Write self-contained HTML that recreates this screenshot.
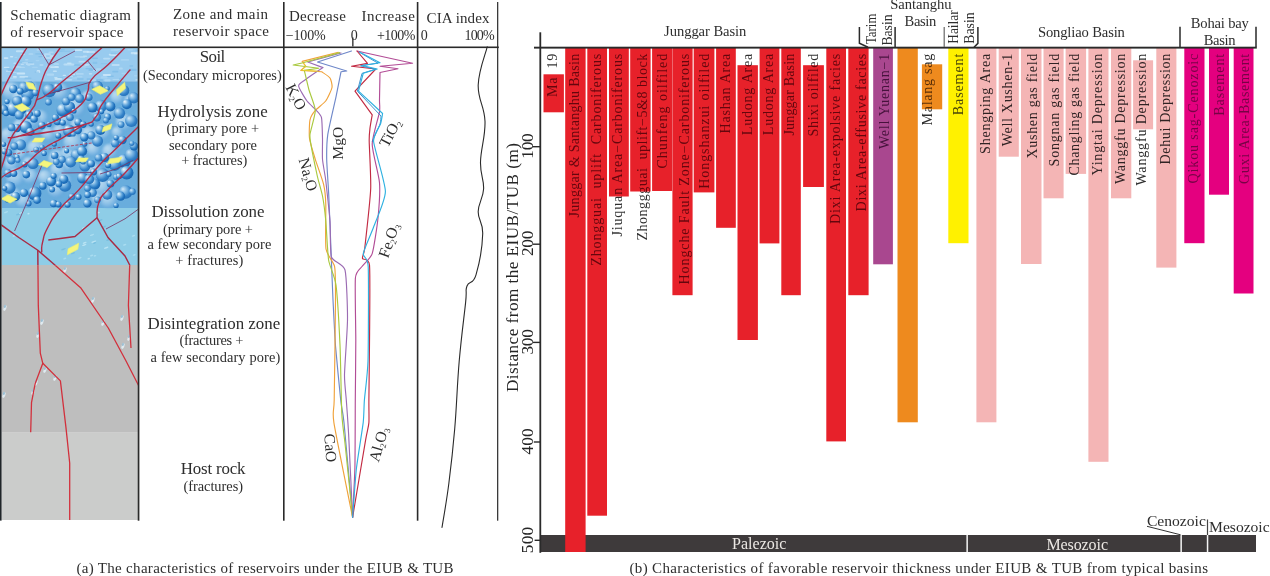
<!DOCTYPE html>
<html lang="en"><head><meta charset="utf-8"><title>Reservoir characteristics under the EIUB &amp; TUB</title>
<style>
html,body{margin:0;padding:0;background:#fff;}
body{width:1270px;height:576px;overflow:hidden;}
svg{display:block;font-family:"Liberation Serif", serif;will-change:transform;}
svg text{font-family:"Liberation Serif", serif;white-space:pre;}
</style></head><body>
<svg width="1270" height="576" viewBox="0 0 1270 576">
<defs>
<clipPath id="cpS"><rect x="1.5" y="47" width="136.4" height="473"/></clipPath>
<radialGradient id="bub" cx="0.40" cy="0.38" r="0.74" fx="0.28" fy="0.24"><stop offset="0" stop-color="#eef7fd"/><stop offset="0.16" stop-color="#bcdcf2"/><stop offset="0.42" stop-color="#62a6dc"/><stop offset="0.7" stop-color="#1f72be"/><stop offset="1" stop-color="#155ca6"/></radialGradient>
<radialGradient id="bub2" cx="0.42" cy="0.40" r="0.72" fx="0.30" fy="0.28"><stop offset="0" stop-color="#d4e9f7"/><stop offset="0.3" stop-color="#86bde6"/><stop offset="0.65" stop-color="#3483c9"/><stop offset="1" stop-color="#1a66b0"/></radialGradient>
<filter id="soft" x="-5%" y="-5%" width="110%" height="110%"><feGaussianBlur stdDeviation="1.3"/></filter>
<radialGradient id="blob" cx="0.42" cy="0.40" r="0.66" fx="0.34" fy="0.30"><stop offset="0" stop-color="#e3f1fb"/><stop offset="0.45" stop-color="#b4d6f0"/><stop offset="0.8" stop-color="#7fb7e4"/><stop offset="1" stop-color="#5a9fd8"/></radialGradient>
<clipPath id="cpBlue"><rect x="0" y="47" width="140" height="218.2"/></clipPath>
<clipPath id="cpGray"><rect x="0" y="265.2" width="140" height="256"/></clipPath>
<linearGradient id="g0" gradientUnits="userSpaceOnUse" x1="0" y1="0" x2="43.3" y2="0"><stop offset="0.0000" stop-color="#65060d"/><stop offset="0.5242" stop-color="#65060d"/><stop offset="0.5242" stop-color="#2e2e2e"/><stop offset="1" stop-color="#2e2e2e"/></linearGradient>
<linearGradient id="g1" gradientUnits="userSpaceOnUse" x1="0" y1="0" x2="163.7" y2="0"><stop offset="0.0000" stop-color="#65060d"/><stop offset="1.0000" stop-color="#65060d"/></linearGradient>
<linearGradient id="g2" gradientUnits="userSpaceOnUse" x1="0" y1="0" x2="212.0" y2="0"><stop offset="0.0000" stop-color="#65060d"/><stop offset="1.0000" stop-color="#65060d"/></linearGradient>
<linearGradient id="g3" gradientUnits="userSpaceOnUse" x1="0" y1="0" x2="182.8" y2="0"><stop offset="0" stop-color="#2e2e2e"/><stop offset="0.2188" stop-color="#2e2e2e"/><stop offset="0.2188" stop-color="#65060d"/><stop offset="1.0000" stop-color="#65060d"/></linearGradient>
<linearGradient id="g4" gradientUnits="userSpaceOnUse" x1="0" y1="0" x2="186.9" y2="0"><stop offset="0" stop-color="#2e2e2e"/><stop offset="0.2627" stop-color="#2e2e2e"/><stop offset="0.2627" stop-color="#65060d"/><stop offset="1.0000" stop-color="#65060d"/></linearGradient>
<linearGradient id="g5" gradientUnits="userSpaceOnUse" x1="0" y1="0" x2="114.9" y2="0"><stop offset="0.0000" stop-color="#65060d"/><stop offset="1.0000" stop-color="#65060d"/></linearGradient>
<linearGradient id="g6" gradientUnits="userSpaceOnUse" x1="0" y1="0" x2="230.7" y2="0"><stop offset="0.0000" stop-color="#65060d"/><stop offset="1.0000" stop-color="#65060d"/></linearGradient>
<linearGradient id="g7" gradientUnits="userSpaceOnUse" x1="0" y1="0" x2="135.0" y2="0"><stop offset="0.0000" stop-color="#65060d"/><stop offset="1.0000" stop-color="#65060d"/></linearGradient>
<linearGradient id="g8" gradientUnits="userSpaceOnUse" x1="0" y1="0" x2="79.8" y2="0"><stop offset="0.0000" stop-color="#65060d"/><stop offset="1.0000" stop-color="#65060d"/></linearGradient>
<linearGradient id="g9" gradientUnits="userSpaceOnUse" x1="0" y1="0" x2="81.5" y2="0"><stop offset="0.0000" stop-color="#65060d"/><stop offset="0.8589" stop-color="#65060d"/><stop offset="0.8589" stop-color="#2e2e2e"/><stop offset="1" stop-color="#2e2e2e"/></linearGradient>
<linearGradient id="g10" gradientUnits="userSpaceOnUse" x1="0" y1="0" x2="81.5" y2="0"><stop offset="0.0000" stop-color="#65060d"/><stop offset="1.0000" stop-color="#65060d"/></linearGradient>
<linearGradient id="g11" gradientUnits="userSpaceOnUse" x1="0" y1="0" x2="81.9" y2="0"><stop offset="0.0000" stop-color="#65060d"/><stop offset="1.0000" stop-color="#65060d"/></linearGradient>
<linearGradient id="g12" gradientUnits="userSpaceOnUse" x1="0" y1="0" x2="82.9" y2="0"><stop offset="0.0000" stop-color="#65060d"/><stop offset="0.8613" stop-color="#65060d"/><stop offset="0.8613" stop-color="#2e2e2e"/><stop offset="1" stop-color="#2e2e2e"/></linearGradient>
<linearGradient id="g13" gradientUnits="userSpaceOnUse" x1="0" y1="0" x2="170.3" y2="0"><stop offset="0.0000" stop-color="#65060d"/><stop offset="1.0000" stop-color="#65060d"/></linearGradient>
<linearGradient id="g14" gradientUnits="userSpaceOnUse" x1="0" y1="0" x2="157.7" y2="0"><stop offset="0.0000" stop-color="#65060d"/><stop offset="1.0000" stop-color="#65060d"/></linearGradient>
<linearGradient id="g15" gradientUnits="userSpaceOnUse" x1="0" y1="0" x2="95.4" y2="0"><stop offset="0.0000" stop-color="#46123c"/><stop offset="1.0000" stop-color="#46123c"/></linearGradient>
<linearGradient id="g17" gradientUnits="userSpaceOnUse" x1="0" y1="0" x2="71.9" y2="0"><stop offset="0" stop-color="#2e2e2e"/><stop offset="0.2267" stop-color="#2e2e2e"/><stop offset="0.2267" stop-color="#5a2e06"/><stop offset="0.8526" stop-color="#5a2e06"/><stop offset="0.8526" stop-color="#2e2e2e"/><stop offset="1" stop-color="#2e2e2e"/></linearGradient>
<linearGradient id="g18" gradientUnits="userSpaceOnUse" x1="0" y1="0" x2="61.5" y2="0"><stop offset="0.0000" stop-color="#4a4608"/><stop offset="1.0000" stop-color="#4a4608"/></linearGradient>
<linearGradient id="g19" gradientUnits="userSpaceOnUse" x1="0" y1="0" x2="100.2" y2="0"><stop offset="0.0000" stop-color="#302324"/><stop offset="1.0000" stop-color="#302324"/></linearGradient>
<linearGradient id="g20" gradientUnits="userSpaceOnUse" x1="0" y1="0" x2="92.6" y2="0"><stop offset="0.0000" stop-color="#302324"/><stop offset="1.0000" stop-color="#302324"/></linearGradient>
<linearGradient id="g21" gradientUnits="userSpaceOnUse" x1="0" y1="0" x2="104.9" y2="0"><stop offset="0.0000" stop-color="#302324"/><stop offset="1.0000" stop-color="#302324"/></linearGradient>
<linearGradient id="g22" gradientUnits="userSpaceOnUse" x1="0" y1="0" x2="112.7" y2="0"><stop offset="0.0000" stop-color="#302324"/><stop offset="1.0000" stop-color="#302324"/></linearGradient>
<linearGradient id="g23" gradientUnits="userSpaceOnUse" x1="0" y1="0" x2="121.8" y2="0"><stop offset="0" stop-color="#2e2e2e"/><stop offset="0.0131" stop-color="#2e2e2e"/><stop offset="0.0131" stop-color="#302324"/><stop offset="1.0000" stop-color="#302324"/></linearGradient>
<linearGradient id="g24" gradientUnits="userSpaceOnUse" x1="0" y1="0" x2="121.8" y2="0"><stop offset="0.0000" stop-color="#302324"/><stop offset="1.0000" stop-color="#302324"/></linearGradient>
<linearGradient id="g25" gradientUnits="userSpaceOnUse" x1="0" y1="0" x2="130.4" y2="0"><stop offset="0.0000" stop-color="#302324"/><stop offset="1.0000" stop-color="#302324"/></linearGradient>
<linearGradient id="g26" gradientUnits="userSpaceOnUse" x1="0" y1="0" x2="131.9" y2="0"><stop offset="0" stop-color="#2e2e2e"/><stop offset="0.4268" stop-color="#2e2e2e"/><stop offset="0.4268" stop-color="#302324"/><stop offset="0.9500" stop-color="#302324"/><stop offset="0.9500" stop-color="#2e2e2e"/><stop offset="1" stop-color="#2e2e2e"/></linearGradient>
<linearGradient id="g27" gradientUnits="userSpaceOnUse" x1="0" y1="0" x2="110.8" y2="0"><stop offset="0.0000" stop-color="#302324"/><stop offset="1.0000" stop-color="#302324"/></linearGradient>
<linearGradient id="g28" gradientUnits="userSpaceOnUse" x1="0" y1="0" x2="129.8" y2="0"><stop offset="0.0000" stop-color="#760345"/><stop offset="1.0000" stop-color="#760345"/></linearGradient>
<linearGradient id="g29" gradientUnits="userSpaceOnUse" x1="0" y1="0" x2="62.1" y2="0"><stop offset="0.0000" stop-color="#760345"/><stop offset="1.0000" stop-color="#760345"/></linearGradient>
<linearGradient id="g30" gradientUnits="userSpaceOnUse" x1="0" y1="0" x2="130.3" y2="0"><stop offset="0.0000" stop-color="#760345"/><stop offset="1.0000" stop-color="#760345"/></linearGradient>
</defs>
<rect width="1270" height="576" fill="#ffffff"/>
<g id="schematic" clip-path="url(#cpS)">
<rect x="1.5" y="47.5" width="137.5" height="34" fill="#98cbef"/>
<rect x="1.5" y="81.3" width="137.5" height="127" fill="#69addd"/>
<rect x="1.5" y="208" width="137.5" height="57.2" fill="#8ecde7"/>
<rect x="1.5" y="265" width="137.5" height="167.7" fill="#bebebe"/>
<rect x="1.5" y="432.5" width="137.5" height="88" fill="#cbcccb"/>
<rect x="44.0" y="53.2" width="6.9" height="2.0" rx="0.9" fill="#bfe0f6" opacity="0.8"/><rect x="12.8" y="66.6" width="8.5" height="1.0" rx="0.9" fill="#c9e6f8" opacity="0.8"/><rect x="59.0" y="50.7" width="3.5" height="1.1" rx="0.9" fill="#7fbde8" opacity="0.8"/><rect x="76.9" y="77.9" width="6.8" height="2.1" rx="0.9" fill="#86c1ea" opacity="0.8"/><rect x="78.5" y="60.8" width="8.9" height="1.7" rx="0.9" fill="#bfe0f6" opacity="0.8"/><rect x="18.1" y="61.5" width="6.2" height="1.4" rx="0.9" fill="#86c1ea" opacity="0.8"/><rect x="111.0" y="54.1" width="6.5" height="1.2" rx="0.9" fill="#d2eafa" opacity="0.8"/><rect x="13.3" y="70.6" width="6.4" height="1.2" rx="0.9" fill="#86c1ea" opacity="0.8"/><rect x="92.5" y="61.8" width="4.9" height="2.1" rx="0.9" fill="#86c1ea" opacity="0.8"/><rect x="49.2" y="56.2" width="4.1" height="1.3" rx="0.9" fill="#a9d5f2" opacity="0.8"/><rect x="78.1" y="64.8" width="8.3" height="1.5" rx="0.9" fill="#d2eafa" opacity="0.8"/><rect x="82.8" y="50.8" width="6.1" height="1.9" rx="0.9" fill="#c9e6f8" opacity="0.8"/><rect x="20.7" y="63.7" width="3.2" height="1.1" rx="0.9" fill="#d2eafa" opacity="0.8"/><rect x="75.9" y="73.0" width="7.9" height="1.8" rx="0.9" fill="#b3daf4" opacity="0.8"/><rect x="80.8" y="66.5" width="5.7" height="1.1" rx="0.9" fill="#a9d5f2" opacity="0.8"/><rect x="36.7" y="70.1" width="3.4" height="1.8" rx="0.9" fill="#d2eafa" opacity="0.8"/><rect x="88.0" y="79.3" width="7.9" height="1.9" rx="0.9" fill="#b3daf4" opacity="0.8"/><rect x="120.6" y="59.3" width="8.6" height="1.2" rx="0.9" fill="#b3daf4" opacity="0.8"/><rect x="15.9" y="50.3" width="7.6" height="1.9" rx="0.9" fill="#c9e6f8" opacity="0.8"/><rect x="54.1" y="76.9" width="6.0" height="1.5" rx="0.9" fill="#c9e6f8" opacity="0.8"/><rect x="74.7" y="75.9" width="7.9" height="1.7" rx="0.9" fill="#a9d5f2" opacity="0.8"/><rect x="96.1" y="79.1" width="7.1" height="2.1" rx="0.9" fill="#7fbde8" opacity="0.8"/><rect x="20.5" y="54.0" width="4.4" height="1.0" rx="0.9" fill="#c9e6f8" opacity="0.8"/><rect x="113.0" y="54.2" width="4.7" height="1.5" rx="0.9" fill="#c9e6f8" opacity="0.8"/><rect x="50.2" y="66.1" width="8.7" height="2.0" rx="0.9" fill="#d2eafa" opacity="0.8"/><rect x="129.2" y="68.8" width="7.4" height="2.1" rx="0.9" fill="#7fbde8" opacity="0.8"/><rect x="106.1" y="75.6" width="7.8" height="1.5" rx="0.9" fill="#7fbde8" opacity="0.8"/><rect x="53.6" y="63.4" width="5.4" height="1.1" rx="0.9" fill="#c9e6f8" opacity="0.8"/><rect x="28.4" y="53.5" width="5.0" height="1.1" rx="0.9" fill="#bfe0f6" opacity="0.8"/><rect x="77.1" y="65.1" width="8.7" height="1.0" rx="0.9" fill="#86c1ea" opacity="0.8"/><rect x="118.9" y="67.5" width="3.9" height="2.1" rx="0.9" fill="#b3daf4" opacity="0.8"/><rect x="81.9" y="63.2" width="3.7" height="2.2" rx="0.9" fill="#7fbde8" opacity="0.8"/><rect x="63.4" y="63.5" width="3.5" height="1.9" rx="0.9" fill="#bfe0f6" opacity="0.8"/><rect x="100.7" y="63.3" width="7.2" height="1.0" rx="0.9" fill="#86c1ea" opacity="0.8"/><rect x="129.3" y="64.9" width="3.9" height="2.1" rx="0.9" fill="#86c1ea" opacity="0.8"/><rect x="103.1" y="57.7" width="6.9" height="1.8" rx="0.9" fill="#bfe0f6" opacity="0.8"/><rect x="35.5" y="59.9" width="4.0" height="1.3" rx="0.9" fill="#a9d5f2" opacity="0.8"/><rect x="73.7" y="64.1" width="6.8" height="2.0" rx="0.9" fill="#86c1ea" opacity="0.8"/><rect x="133.9" y="74.9" width="7.8" height="1.5" rx="0.9" fill="#a9d5f2" opacity="0.8"/><rect x="109.3" y="54.7" width="6.0" height="1.0" rx="0.9" fill="#d2eafa" opacity="0.8"/><rect x="3.8" y="57.2" width="4.6" height="1.7" rx="0.9" fill="#d2eafa" opacity="0.8"/><rect x="46.8" y="73.6" width="7.3" height="2.1" rx="0.9" fill="#b3daf4" opacity="0.8"/><rect x="49.6" y="55.3" width="4.4" height="1.4" rx="0.9" fill="#c9e6f8" opacity="0.8"/><rect x="65.6" y="79.0" width="6.7" height="1.6" rx="0.9" fill="#bfe0f6" opacity="0.8"/><rect x="88.8" y="73.3" width="3.5" height="1.1" rx="0.9" fill="#d2eafa" opacity="0.8"/><rect x="52.8" y="70.6" width="4.2" height="1.5" rx="0.9" fill="#c9e6f8" opacity="0.8"/><rect x="86.5" y="51.2" width="8.7" height="1.5" rx="0.9" fill="#d2eafa" opacity="0.8"/><rect x="54.6" y="77.9" width="7.3" height="2.2" rx="0.9" fill="#c9e6f8" opacity="0.8"/><rect x="3.7" y="66.8" width="5.8" height="1.2" rx="0.9" fill="#d2eafa" opacity="0.8"/><rect x="112.4" y="78.9" width="6.9" height="1.2" rx="0.9" fill="#b3daf4" opacity="0.8"/><rect x="74.6" y="49.2" width="7.8" height="1.8" rx="0.9" fill="#d2eafa" opacity="0.8"/><rect x="71.6" y="77.4" width="5.6" height="1.2" rx="0.9" fill="#a9d5f2" opacity="0.8"/><rect x="118.9" y="49.4" width="4.3" height="1.3" rx="0.9" fill="#86c1ea" opacity="0.8"/><rect x="79.8" y="56.5" width="5.5" height="1.1" rx="0.9" fill="#c9e6f8" opacity="0.8"/><rect x="100.6" y="76.3" width="7.0" height="2.1" rx="0.9" fill="#a9d5f2" opacity="0.8"/><rect x="57.2" y="76.9" width="6.0" height="1.2" rx="0.9" fill="#86c1ea" opacity="0.8"/><rect x="69.4" y="75.6" width="7.7" height="1.0" rx="0.9" fill="#86c1ea" opacity="0.8"/><rect x="108.7" y="53.8" width="5.8" height="1.1" rx="0.9" fill="#d2eafa" opacity="0.8"/><rect x="8.4" y="69.7" width="6.2" height="1.9" rx="0.9" fill="#7fbde8" opacity="0.8"/><rect x="14.4" y="65.9" width="4.5" height="1.1" rx="0.9" fill="#b3daf4" opacity="0.8"/><rect x="13.3" y="62.5" width="3.2" height="1.5" rx="0.9" fill="#bfe0f6" opacity="0.8"/><rect x="83.3" y="64.2" width="6.1" height="1.3" rx="0.9" fill="#d2eafa" opacity="0.8"/><rect x="69.1" y="73.5" width="6.0" height="1.8" rx="0.9" fill="#c9e6f8" opacity="0.8"/><rect x="119.2" y="77.7" width="4.6" height="2.1" rx="0.9" fill="#86c1ea" opacity="0.8"/><rect x="27.6" y="62.4" width="5.5" height="1.5" rx="0.9" fill="#7fbde8" opacity="0.8"/><rect x="9.9" y="56.0" width="3.4" height="1.4" rx="0.9" fill="#d2eafa" opacity="0.8"/><rect x="16.6" y="72.6" width="8.6" height="1.8" rx="0.9" fill="#d2eafa" opacity="0.8"/><rect x="19.4" y="75.9" width="8.8" height="1.9" rx="0.9" fill="#c9e6f8" opacity="0.8"/><rect x="12.8" y="75.9" width="4.0" height="2.0" rx="0.9" fill="#d2eafa" opacity="0.8"/><rect x="22.0" y="61.9" width="6.1" height="1.5" rx="0.9" fill="#b3daf4" opacity="0.8"/><rect x="48.5" y="51.4" width="5.2" height="1.7" rx="0.9" fill="#b3daf4" opacity="0.8"/><rect x="59.9" y="49.1" width="5.0" height="1.4" rx="0.9" fill="#86c1ea" opacity="0.8"/><rect x="130.7" y="52.0" width="8.5" height="2.2" rx="0.9" fill="#c9e6f8" opacity="0.8"/><rect x="14.3" y="56.7" width="3.2" height="1.2" rx="0.9" fill="#a9d5f2" opacity="0.8"/><rect x="102.8" y="73.9" width="8.1" height="2.0" rx="0.9" fill="#d2eafa" opacity="0.8"/><rect x="35.2" y="53.1" width="8.5" height="1.6" rx="0.9" fill="#86c1ea" opacity="0.8"/><rect x="44.5" y="57.2" width="7.8" height="1.5" rx="0.9" fill="#c9e6f8" opacity="0.8"/><rect x="9.8" y="77.6" width="6.8" height="1.3" rx="0.9" fill="#a9d5f2" opacity="0.8"/><rect x="82.7" y="55.4" width="4.6" height="1.5" rx="0.9" fill="#bfe0f6" opacity="0.8"/><rect x="46.1" y="65.6" width="8.6" height="1.7" rx="0.9" fill="#b3daf4" opacity="0.8"/><rect x="5.9" y="70.5" width="8.6" height="1.3" rx="0.9" fill="#c9e6f8" opacity="0.8"/><rect x="24.6" y="77.4" width="6.8" height="1.9" rx="0.9" fill="#86c1ea" opacity="0.8"/><rect x="39.4" y="64.0" width="4.1" height="2.0" rx="0.9" fill="#b3daf4" opacity="0.8"/><rect x="135.3" y="49.6" width="3.1" height="1.7" rx="0.9" fill="#86c1ea" opacity="0.8"/><rect x="25.8" y="63.2" width="8.6" height="1.8" rx="0.9" fill="#bfe0f6" opacity="0.8"/><rect x="88.4" y="68.9" width="6.3" height="2.2" rx="0.9" fill="#7fbde8" opacity="0.8"/><rect x="41.9" y="55.2" width="4.4" height="2.0" rx="0.9" fill="#c9e6f8" opacity="0.8"/><rect x="96.1" y="68.2" width="5.4" height="2.2" rx="0.9" fill="#b3daf4" opacity="0.8"/><rect x="113.8" y="48.9" width="6.8" height="1.5" rx="0.9" fill="#b3daf4" opacity="0.8"/><rect x="7.5" y="69.1" width="5.3" height="1.8" rx="0.9" fill="#86c1ea" opacity="0.8"/><rect x="38.3" y="56.0" width="4.8" height="1.2" rx="0.9" fill="#7fbde8" opacity="0.8"/><rect x="36.6" y="48.6" width="5.2" height="2.2" rx="0.9" fill="#b3daf4" opacity="0.8"/><rect x="74.4" y="56.1" width="8.8" height="1.3" rx="0.9" fill="#b3daf4" opacity="0.8"/><rect x="24.9" y="58.9" width="3.5" height="1.6" rx="0.9" fill="#b3daf4" opacity="0.8"/><rect x="27.3" y="64.1" width="3.0" height="2.0" rx="0.9" fill="#b3daf4" opacity="0.8"/><rect x="19.6" y="66.7" width="5.4" height="1.4" rx="0.9" fill="#b3daf4" opacity="0.8"/><rect x="31.7" y="66.7" width="6.2" height="1.2" rx="0.9" fill="#a9d5f2" opacity="0.8"/><rect x="121.4" y="72.8" width="6.6" height="1.4" rx="0.9" fill="#a9d5f2" opacity="0.8"/><rect x="133.9" y="53.1" width="7.3" height="1.2" rx="0.9" fill="#d2eafa" opacity="0.8"/><rect x="112.2" y="70.7" width="6.1" height="1.9" rx="0.9" fill="#7fbde8" opacity="0.8"/><rect x="110.5" y="52.8" width="6.1" height="1.7" rx="0.9" fill="#86c1ea" opacity="0.8"/><rect x="110.6" y="49.0" width="7.1" height="2.1" rx="0.9" fill="#a9d5f2" opacity="0.8"/><rect x="92.9" y="70.0" width="4.4" height="1.1" rx="0.9" fill="#bfe0f6" opacity="0.8"/><rect x="86.6" y="78.2" width="5.3" height="1.7" rx="0.9" fill="#7fbde8" opacity="0.8"/><rect x="85.4" y="67.9" width="7.1" height="1.3" rx="0.9" fill="#7fbde8" opacity="0.8"/><rect x="62.1" y="50.7" width="8.6" height="1.1" rx="0.9" fill="#86c1ea" opacity="0.8"/><rect x="71.5" y="71.6" width="5.8" height="1.1" rx="0.9" fill="#a9d5f2" opacity="0.8"/><rect x="36.1" y="71.1" width="4.2" height="1.8" rx="0.9" fill="#d2eafa" opacity="0.8"/><rect x="62.6" y="74.7" width="3.5" height="1.3" rx="0.9" fill="#d2eafa" opacity="0.8"/><rect x="6.4" y="68.1" width="4.2" height="1.2" rx="0.9" fill="#86c1ea" opacity="0.8"/><rect x="34.5" y="71.5" width="4.8" height="1.2" rx="0.9" fill="#86c1ea" opacity="0.8"/><rect x="65.6" y="63.6" width="8.8" height="1.8" rx="0.9" fill="#bfe0f6" opacity="0.8"/><rect x="91.9" y="57.5" width="6.1" height="1.6" rx="0.9" fill="#7fbde8" opacity="0.8"/><rect x="104.3" y="79.3" width="6.3" height="2.2" rx="0.9" fill="#b3daf4" opacity="0.8"/><rect x="127.3" y="49.0" width="5.8" height="1.6" rx="0.9" fill="#a9d5f2" opacity="0.8"/><rect x="135.3" y="79.3" width="5.3" height="1.1" rx="0.9" fill="#c9e6f8" opacity="0.8"/><rect x="12.3" y="71.7" width="4.6" height="1.2" rx="0.9" fill="#b3daf4" opacity="0.8"/><rect x="111.5" y="64.3" width="8.3" height="1.4" rx="0.9" fill="#d2eafa" opacity="0.8"/><rect x="67.7" y="75.7" width="5.4" height="1.0" rx="0.9" fill="#c9e6f8" opacity="0.8"/><rect x="66.9" y="62.5" width="4.8" height="1.5" rx="0.9" fill="#c9e6f8" opacity="0.8"/>
<g filter="url(#soft)" opacity="0.7"><circle cx="19.7" cy="126.1" r="7.0" fill="url(#blob)"/><circle cx="48.0" cy="133.8" r="6.8" fill="url(#blob)"/><circle cx="29.4" cy="89.3" r="9.3" fill="url(#blob)"/><circle cx="117.1" cy="96.8" r="7.1" fill="url(#blob)"/><circle cx="102.2" cy="186.2" r="9.2" fill="url(#blob)"/><circle cx="10.7" cy="164.1" r="6.6" fill="url(#blob)"/><circle cx="23.4" cy="199.7" r="8.0" fill="url(#blob)"/><circle cx="45.0" cy="176.9" r="7.2" fill="url(#blob)"/><circle cx="59.6" cy="91.3" r="8.6" fill="url(#blob)"/><circle cx="56.0" cy="188.7" r="8.5" fill="url(#blob)"/><circle cx="57.4" cy="158.7" r="9.2" fill="url(#blob)"/><circle cx="117.0" cy="143.8" r="6.1" fill="url(#blob)"/><circle cx="75.5" cy="107.6" r="9.1" fill="url(#blob)"/><circle cx="40.6" cy="117.4" r="7.2" fill="url(#blob)"/><circle cx="88.9" cy="134.7" r="8.5" fill="url(#blob)"/><circle cx="66.8" cy="164.9" r="6.5" fill="url(#blob)"/><circle cx="87.6" cy="96.6" r="6.0" fill="url(#blob)"/><circle cx="109.5" cy="151.3" r="7.5" fill="url(#blob)"/><circle cx="76.3" cy="124.7" r="6.2" fill="url(#blob)"/><circle cx="109.2" cy="111.2" r="7.0" fill="url(#blob)"/><circle cx="117.2" cy="132.0" r="5.6" fill="url(#blob)"/><circle cx="31.3" cy="119.1" r="8.5" fill="url(#blob)"/><circle cx="68.8" cy="154.0" r="8.5" fill="url(#blob)"/><circle cx="93.3" cy="148.9" r="6.9" fill="url(#blob)"/><circle cx="20.5" cy="136.9" r="9.4" fill="url(#blob)"/><circle cx="108.6" cy="199.4" r="8.6" fill="url(#blob)"/><circle cx="13.5" cy="195.0" r="7.5" fill="url(#blob)"/><circle cx="72.6" cy="141.8" r="9.2" fill="url(#blob)"/><circle cx="130.3" cy="100.5" r="6.1" fill="url(#blob)"/><circle cx="15.1" cy="177.3" r="9.1" fill="url(#blob)"/><circle cx="20.3" cy="153.5" r="5.5" fill="url(#blob)"/><circle cx="97.0" cy="198.7" r="5.7" fill="url(#blob)"/><circle cx="4.1" cy="149.8" r="8.7" fill="url(#blob)"/><circle cx="35.5" cy="148.5" r="8.9" fill="url(#blob)"/><circle cx="7.8" cy="135.4" r="7.7" fill="url(#blob)"/><circle cx="11.2" cy="110.3" r="8.1" fill="url(#blob)"/><circle cx="59.2" cy="130.6" r="6.4" fill="url(#blob)"/><circle cx="94.5" cy="170.6" r="7.5" fill="url(#blob)"/><circle cx="30.1" cy="176.1" r="7.5" fill="url(#blob)"/><circle cx="64.5" cy="118.5" r="6.3" fill="url(#blob)"/><circle cx="11.1" cy="90.7" r="9.2" fill="url(#blob)"/><circle cx="58.0" cy="169.6" r="7.9" fill="url(#blob)"/><circle cx="18.7" cy="97.1" r="6.8" fill="url(#blob)"/><circle cx="28.8" cy="163.0" r="6.2" fill="url(#blob)"/><circle cx="102.6" cy="131.7" r="7.7" fill="url(#blob)"/><circle cx="95.7" cy="110.5" r="5.9" fill="url(#blob)"/><circle cx="64.3" cy="180.4" r="7.0" fill="url(#blob)"/><circle cx="124.1" cy="122.2" r="8.3" fill="url(#blob)"/></g>
<circle cx="124.0" cy="161.0" r="6.8" fill="url(#bub)"/><circle cx="13.4" cy="109.4" r="6.8" fill="url(#bub)"/><circle cx="27.8" cy="93.7" r="6.8" fill="url(#bub2)"/><circle cx="131.4" cy="155.0" r="6.8" fill="url(#bub2)"/><circle cx="49.2" cy="90.5" r="6.8" fill="url(#bub2)"/><circle cx="125.6" cy="192.0" r="6.8" fill="url(#bub2)"/><circle cx="126.7" cy="172.8" r="6.8" fill="url(#bub)"/><circle cx="34.6" cy="193.4" r="6.8" fill="url(#bub)"/><circle cx="102.6" cy="175.1" r="6.8" fill="url(#bub2)"/><circle cx="63.3" cy="110.3" r="6.8" fill="url(#bub)"/><circle cx="114.8" cy="164.7" r="6.2" fill="url(#bub2)"/><circle cx="25.7" cy="127.1" r="6.2" fill="url(#bub)"/><circle cx="9.4" cy="187.7" r="6.2" fill="url(#bub2)"/><circle cx="131.3" cy="120.9" r="6.2" fill="url(#bub2)"/><circle cx="65.0" cy="185.5" r="6.2" fill="url(#bub2)"/><circle cx="69.2" cy="130.9" r="6.2" fill="url(#bub)"/><circle cx="100.9" cy="106.0" r="6.2" fill="url(#bub2)"/><circle cx="97.5" cy="141.1" r="5.6" fill="url(#bub2)"/><circle cx="20.5" cy="144.8" r="5.6" fill="url(#bub2)"/><circle cx="25.9" cy="101.5" r="5.6" fill="url(#bub)"/><circle cx="84.9" cy="166.0" r="5.6" fill="url(#bub2)"/><circle cx="133.8" cy="97.9" r="5.6" fill="url(#bub2)"/><circle cx="119.5" cy="113.2" r="5.6" fill="url(#bub2)"/><circle cx="123.7" cy="90.5" r="5.6" fill="url(#bub2)"/><circle cx="82.6" cy="178.0" r="5.6" fill="url(#bub)"/><circle cx="75.3" cy="93.2" r="5.6" fill="url(#bub2)"/><circle cx="69.5" cy="107.0" r="5.6" fill="url(#bub)"/><circle cx="76.3" cy="154.8" r="5.6" fill="url(#bub2)"/><circle cx="33.0" cy="163.5" r="5.6" fill="url(#bub2)"/><circle cx="23.9" cy="87.4" r="5.6" fill="url(#bub2)"/><circle cx="97.4" cy="86.4" r="5.6" fill="url(#bub2)"/><circle cx="94.8" cy="184.0" r="5.6" fill="url(#bub)"/><circle cx="70.6" cy="161.8" r="5.6" fill="url(#bub2)"/><circle cx="107.3" cy="194.7" r="5.0" fill="url(#bub2)"/><circle cx="92.5" cy="107.6" r="5.0" fill="url(#bub)"/><circle cx="29.9" cy="86.2" r="5.0" fill="url(#bub2)"/><circle cx="126.9" cy="104.2" r="5.0" fill="url(#bub)"/><circle cx="82.1" cy="151.2" r="5.0" fill="url(#bub)"/><circle cx="17.1" cy="100.9" r="5.0" fill="url(#bub2)"/><circle cx="51.2" cy="181.4" r="5.0" fill="url(#bub)"/><circle cx="89.2" cy="179.2" r="5.0" fill="url(#bub2)"/><circle cx="100.4" cy="129.9" r="5.0" fill="url(#bub)"/><circle cx="110.4" cy="106.4" r="5.0" fill="url(#bub)"/><circle cx="3.2" cy="109.6" r="5.0" fill="url(#bub)"/><circle cx="63.8" cy="179.3" r="4.6" fill="url(#bub)"/><circle cx="21.7" cy="109.8" r="4.6" fill="url(#bub)"/><circle cx="57.7" cy="87.6" r="4.6" fill="url(#bub)"/><circle cx="19.2" cy="115.0" r="4.6" fill="url(#bub2)"/><circle cx="120.6" cy="196.2" r="4.6" fill="url(#bub)"/><circle cx="104.5" cy="157.5" r="4.6" fill="url(#bub)"/><circle cx="15.6" cy="196.6" r="4.6" fill="url(#bub)"/><circle cx="79.6" cy="98.5" r="4.6" fill="url(#bub2)"/><circle cx="77.8" cy="130.0" r="4.2" fill="url(#bub)"/><circle cx="29.3" cy="115.0" r="4.2" fill="url(#bub)"/><circle cx="134.0" cy="146.2" r="4.2" fill="url(#bub)"/><circle cx="8.0" cy="173.2" r="4.2" fill="url(#bub2)"/><circle cx="13.3" cy="89.0" r="4.2" fill="url(#bub)"/><circle cx="91.2" cy="135.4" r="4.2" fill="url(#bub2)"/><circle cx="24.0" cy="192.9" r="4.2" fill="url(#bub)"/><circle cx="122.5" cy="140.1" r="4.2" fill="url(#bub)"/><circle cx="92.7" cy="192.8" r="4.2" fill="url(#bub2)"/><circle cx="87.4" cy="203.4" r="4.2" fill="url(#bub)"/><circle cx="84.3" cy="137.2" r="4.2" fill="url(#bub)"/><circle cx="17.0" cy="128.1" r="4.2" fill="url(#bub)"/><circle cx="11.4" cy="160.4" r="4.2" fill="url(#bub2)"/><circle cx="96.9" cy="117.2" r="4.2" fill="url(#bub2)"/><circle cx="66.0" cy="101.2" r="4.2" fill="url(#bub2)"/><circle cx="30.3" cy="131.9" r="4.2" fill="url(#bub)"/><circle cx="115.1" cy="143.2" r="4.2" fill="url(#bub2)"/><circle cx="34.1" cy="119.0" r="3.8" fill="url(#bub)"/><circle cx="88.8" cy="97.2" r="3.8" fill="url(#bub2)"/><circle cx="110.5" cy="183.7" r="3.8" fill="url(#bub)"/><circle cx="42.8" cy="185.9" r="3.8" fill="url(#bub)"/><circle cx="8.4" cy="152.8" r="3.8" fill="url(#bub)"/><circle cx="59.2" cy="164.4" r="3.8" fill="url(#bub)"/><circle cx="62.0" cy="159.6" r="3.8" fill="url(#bub2)"/><circle cx="11.6" cy="127.4" r="3.8" fill="url(#bub2)"/><circle cx="81.1" cy="159.3" r="3.8" fill="url(#bub)"/><circle cx="26.3" cy="174.6" r="3.8" fill="url(#bub)"/><circle cx="57.5" cy="121.4" r="3.8" fill="url(#bub)"/><circle cx="14.3" cy="146.2" r="3.8" fill="url(#bub2)"/><circle cx="78.3" cy="122.2" r="3.8" fill="url(#bub)"/><circle cx="54.7" cy="155.6" r="3.8" fill="url(#bub)"/><circle cx="41.9" cy="125.6" r="3.8" fill="url(#bub)"/><circle cx="70.0" cy="117.3" r="3.8" fill="url(#bub2)"/><circle cx="98.5" cy="157.7" r="3.8" fill="url(#bub2)"/><circle cx="37.1" cy="200.1" r="3.8" fill="url(#bub)"/><circle cx="53.7" cy="203.5" r="3.8" fill="url(#bub)"/><circle cx="91.2" cy="163.7" r="3.8" fill="url(#bub)"/><circle cx="71.5" cy="97.3" r="3.8" fill="url(#bub2)"/><circle cx="83.2" cy="124.6" r="3.4" fill="url(#bub)"/><circle cx="35.6" cy="92.8" r="3.4" fill="url(#bub)"/><circle cx="132.4" cy="191.6" r="3.4" fill="url(#bub2)"/><circle cx="55.5" cy="117.7" r="3.4" fill="url(#bub)"/><circle cx="58.9" cy="184.0" r="3.4" fill="url(#bub)"/><circle cx="20.2" cy="91.3" r="3.4" fill="url(#bub)"/><circle cx="87.6" cy="194.8" r="3.4" fill="url(#bub)"/><circle cx="71.8" cy="196.7" r="3.4" fill="url(#bub2)"/><circle cx="87.5" cy="188.3" r="3.4" fill="url(#bub2)"/><circle cx="13.9" cy="173.5" r="3.4" fill="url(#bub)"/><circle cx="93.6" cy="172.0" r="3.4" fill="url(#bub)"/><circle cx="56.3" cy="161.8" r="3.4" fill="url(#bub2)"/><circle cx="107.6" cy="116.9" r="3.4" fill="url(#bub)"/><circle cx="37.4" cy="113.5" r="3.4" fill="url(#bub)"/><circle cx="48.5" cy="102.1" r="3.4" fill="url(#bub2)"/><circle cx="121.1" cy="124.6" r="3.4" fill="url(#bub2)"/><circle cx="97.5" cy="199.8" r="3.4" fill="url(#bub2)"/><circle cx="6.2" cy="113.2" r="3.0" fill="url(#bub)"/><circle cx="58.6" cy="204.4" r="3.0" fill="url(#bub)"/><circle cx="105.9" cy="120.4" r="3.0" fill="url(#bub2)"/><circle cx="52.1" cy="189.6" r="3.0" fill="url(#bub)"/><circle cx="108.1" cy="165.2" r="3.0" fill="url(#bub)"/><circle cx="78.6" cy="197.0" r="3.0" fill="url(#bub)"/><circle cx="53.7" cy="176.0" r="3.0" fill="url(#bub)"/><circle cx="28.6" cy="203.6" r="3.0" fill="url(#bub)"/><circle cx="36.3" cy="149.7" r="3.0" fill="url(#bub2)"/><circle cx="4.6" cy="151.5" r="3.0" fill="url(#bub)"/><circle cx="116.1" cy="177.0" r="3.0" fill="url(#bub2)"/><circle cx="119.1" cy="176.3" r="3.0" fill="url(#bub)"/><circle cx="7.5" cy="199.7" r="3.0" fill="url(#bub2)"/><circle cx="67.7" cy="204.7" r="3.0" fill="url(#bub)"/><circle cx="24.7" cy="164.4" r="3.0" fill="url(#bub)"/><circle cx="62.9" cy="122.7" r="3.0" fill="url(#bub)"/><circle cx="58.3" cy="135.7" r="3.0" fill="url(#bub)"/><circle cx="108.9" cy="174.3" r="2.6" fill="url(#bub)"/><circle cx="66.6" cy="150.8" r="2.6" fill="url(#bub)"/><circle cx="17.0" cy="157.0" r="2.6" fill="url(#bub)"/><circle cx="44.2" cy="153.4" r="2.6" fill="url(#bub)"/><circle cx="131.8" cy="143.3" r="2.6" fill="url(#bub2)"/><circle cx="83.2" cy="161.9" r="2.6" fill="url(#bub2)"/><circle cx="91.2" cy="124.1" r="2.6" fill="url(#bub)"/><circle cx="84.7" cy="144.1" r="2.6" fill="url(#bub)"/><circle cx="116.1" cy="205.5" r="2.6" fill="url(#bub)"/><circle cx="42.1" cy="147.3" r="2.6" fill="url(#bub)"/><circle cx="101.6" cy="111.6" r="2.6" fill="url(#bub)"/><circle cx="73.2" cy="134.0" r="2.6" fill="url(#bub2)"/><circle cx="116.2" cy="137.8" r="2.6" fill="url(#bub)"/><circle cx="17.8" cy="160.2" r="2.6" fill="url(#bub2)"/><circle cx="7.1" cy="101.6" r="2.6" fill="url(#bub)"/><circle cx="107.2" cy="88.6" r="2.6" fill="url(#bub2)"/><circle cx="74.0" cy="111.0" r="2.6" fill="url(#bub)"/><circle cx="3.6" cy="144.3" r="2.6" fill="url(#bub)"/><circle cx="49.0" cy="124.4" r="2.6" fill="url(#bub)"/><circle cx="4.7" cy="188.3" r="2.6" fill="url(#bub)"/><circle cx="54.3" cy="144.1" r="2.6" fill="url(#bub)"/>
<ellipse cx="18.3" cy="214.3" rx="2.4" ry="0.8" fill="#79bfe0" transform="rotate(-20 18.3 214.3)"/><ellipse cx="84.3" cy="244.9" rx="2.3" ry="0.8" fill="#b9e3f3" transform="rotate(-20 84.3 244.9)"/><ellipse cx="84.7" cy="242.8" rx="2.1" ry="0.8" fill="#b9e3f3" transform="rotate(-20 84.7 242.8)"/><ellipse cx="95.0" cy="255.8" rx="1.3" ry="0.8" fill="#a9dcf0" transform="rotate(-20 95.0 255.8)"/><ellipse cx="92.0" cy="234.9" rx="2.3" ry="0.8" fill="#a9dcf0" transform="rotate(-20 92.0 234.9)"/><ellipse cx="91.6" cy="255.5" rx="1.8" ry="0.8" fill="#a9dcf0" transform="rotate(-20 91.6 255.5)"/><ellipse cx="124.7" cy="244.8" rx="1.7" ry="0.8" fill="#a9dcf0" transform="rotate(-20 124.7 244.8)"/><ellipse cx="107.8" cy="240.1" rx="1.6" ry="0.8" fill="#79bfe0" transform="rotate(-20 107.8 240.1)"/><ellipse cx="28.4" cy="213.7" rx="1.2" ry="0.8" fill="#b9e3f3" transform="rotate(-20 28.4 213.7)"/><ellipse cx="88.7" cy="258.7" rx="1.3" ry="0.8" fill="#b9e3f3" transform="rotate(-20 88.7 258.7)"/><ellipse cx="72.9" cy="253.2" rx="2.3" ry="0.8" fill="#79bfe0" transform="rotate(-20 72.9 253.2)"/><ellipse cx="79.9" cy="257.9" rx="1.8" ry="0.8" fill="#a9dcf0" transform="rotate(-20 79.9 257.9)"/><ellipse cx="93.8" cy="241.7" rx="2.6" ry="0.8" fill="#b9e3f3" transform="rotate(-20 93.8 241.7)"/><ellipse cx="133.5" cy="235.8" rx="1.8" ry="0.8" fill="#a9dcf0" transform="rotate(-20 133.5 235.8)"/><ellipse cx="14.9" cy="235.6" rx="2.5" ry="0.8" fill="#b9e3f3" transform="rotate(-20 14.9 235.6)"/><ellipse cx="6.0" cy="212.2" rx="2.2" ry="0.8" fill="#a9dcf0" transform="rotate(-20 6.0 212.2)"/><ellipse cx="134.2" cy="254.9" rx="1.5" ry="0.8" fill="#a9dcf0" transform="rotate(-20 134.2 254.9)"/><ellipse cx="21.0" cy="212.9" rx="2.2" ry="0.8" fill="#a9dcf0" transform="rotate(-20 21.0 212.9)"/><ellipse cx="63.5" cy="249.2" rx="2.5" ry="0.8" fill="#79bfe0" transform="rotate(-20 63.5 249.2)"/><ellipse cx="106.2" cy="247.7" rx="2.4" ry="0.8" fill="#b9e3f3" transform="rotate(-20 106.2 247.7)"/><ellipse cx="104.2" cy="226.7" rx="2.0" ry="0.8" fill="#79bfe0" transform="rotate(-20 104.2 226.7)"/><ellipse cx="64.8" cy="258.6" rx="1.6" ry="0.8" fill="#a9dcf0" transform="rotate(-20 64.8 258.6)"/><ellipse cx="98.7" cy="212.6" rx="1.2" ry="0.8" fill="#b9e3f3" transform="rotate(-20 98.7 212.6)"/><ellipse cx="94.6" cy="242.9" rx="1.7" ry="0.8" fill="#79bfe0" transform="rotate(-20 94.6 242.9)"/><ellipse cx="100.3" cy="220.3" rx="2.4" ry="0.8" fill="#79bfe0" transform="rotate(-20 100.3 220.3)"/><ellipse cx="84.4" cy="227.8" rx="2.5" ry="0.8" fill="#b9e3f3" transform="rotate(-20 84.4 227.8)"/>
<ellipse cx="5" cy="308" rx="1.4" ry="3" fill="#dfeaf0" transform="rotate(20 5 308)"/>
<ellipse cx="4.4" cy="306.5" rx="1" ry="1.6" fill="#9cc0d4" transform="rotate(20 5 308)"/>
<ellipse cx="65" cy="270" rx="1.4" ry="3" fill="#dfeaf0" transform="rotate(20 65 270)"/>
<ellipse cx="64.4" cy="268.5" rx="1" ry="1.6" fill="#9cc0d4" transform="rotate(20 65 270)"/>
<ellipse cx="42" cy="322" rx="1.4" ry="3" fill="#dfeaf0" transform="rotate(20 42 322)"/>
<ellipse cx="41.4" cy="320.5" rx="1" ry="1.6" fill="#9cc0d4" transform="rotate(20 42 322)"/>
<ellipse cx="38" cy="335" rx="1.4" ry="3" fill="#dfeaf0" transform="rotate(20 38 335)"/>
<ellipse cx="37.4" cy="333.5" rx="1" ry="1.6" fill="#9cc0d4" transform="rotate(20 38 335)"/>
<ellipse cx="93" cy="300" rx="1.4" ry="3" fill="#dfeaf0" transform="rotate(20 93 300)"/>
<ellipse cx="92.4" cy="298.5" rx="1" ry="1.6" fill="#9cc0d4" transform="rotate(20 93 300)"/>
<ellipse cx="103" cy="323" rx="1.4" ry="3" fill="#dfeaf0" transform="rotate(20 103 323)"/>
<ellipse cx="102.4" cy="321.5" rx="1" ry="1.6" fill="#9cc0d4" transform="rotate(20 103 323)"/>
<ellipse cx="122" cy="318" rx="1.4" ry="3" fill="#dfeaf0" transform="rotate(20 122 318)"/>
<ellipse cx="121.4" cy="316.5" rx="1" ry="1.6" fill="#9cc0d4" transform="rotate(20 122 318)"/>
<ellipse cx="129" cy="338" rx="1.4" ry="3" fill="#dfeaf0" transform="rotate(20 129 338)"/>
<ellipse cx="128.4" cy="336.5" rx="1" ry="1.6" fill="#9cc0d4" transform="rotate(20 129 338)"/>
<ellipse cx="45" cy="370" rx="1.4" ry="3" fill="#dfeaf0" transform="rotate(20 45 370)"/>
<ellipse cx="44.4" cy="368.5" rx="1" ry="1.6" fill="#9cc0d4" transform="rotate(20 45 370)"/>
<ellipse cx="36" cy="383" rx="1.4" ry="3" fill="#dfeaf0" transform="rotate(20 36 383)"/>
<ellipse cx="35.4" cy="381.5" rx="1" ry="1.6" fill="#9cc0d4" transform="rotate(20 36 383)"/>
<ellipse cx="33" cy="392" rx="1.4" ry="3" fill="#dfeaf0" transform="rotate(20 33 392)"/>
<ellipse cx="32.4" cy="390.5" rx="1" ry="1.6" fill="#9cc0d4" transform="rotate(20 33 392)"/>
<ellipse cx="4" cy="395" rx="1.4" ry="3" fill="#dfeaf0" transform="rotate(20 4 395)"/>
<ellipse cx="3.4" cy="393.5" rx="1" ry="1.6" fill="#9cc0d4" transform="rotate(20 4 395)"/>
<ellipse cx="123" cy="346" rx="1.4" ry="3" fill="#dfeaf0" transform="rotate(20 123 346)"/>
<ellipse cx="122.4" cy="344.5" rx="1" ry="1.6" fill="#9cc0d4" transform="rotate(20 123 346)"/>
<ellipse cx="55" cy="378" rx="1.4" ry="3" fill="#dfeaf0" transform="rotate(20 55 378)"/>
<ellipse cx="54.4" cy="376.5" rx="1" ry="1.6" fill="#9cc0d4" transform="rotate(20 55 378)"/>
<polygon points="29.6,83.0 36.6,83.0 32.4,89.0 25.4,89.0" fill="#f4f57c" stroke="#e6ee7a" stroke-width="0.6" transform="rotate(65 31 86)"/>
<polygon points="97.5,86.5 107.5,86.5 102.5,93.5 92.5,93.5" fill="#f4f57c" stroke="#e6ee7a" stroke-width="0.6" transform="rotate(30 100 90)"/>
<polygon points="117.2,86.5 128.2,86.5 124.8,91.5 113.8,91.5" fill="#f4f57c" stroke="#e6ee7a" stroke-width="0.6" transform="rotate(-42 121 89)"/>
<polygon points="19.9,104.0 28.9,104.0 24.1,111.0 15.1,111.0" fill="#f4f57c" stroke="#e6ee7a" stroke-width="0.6" transform="rotate(35 22 107.5)"/>
<polygon points="104.0,125.8 113.0,125.8 110.0,130.2 101.0,130.2" fill="#f4f57c" stroke="#e6ee7a" stroke-width="0.6" transform="rotate(-20 107 128)"/>
<polygon points="34.9,138.0 44.9,138.0 42.1,142.0 32.1,142.0" fill="#f4f57c" stroke="#e6ee7a" stroke-width="0.6" transform="rotate(0 38.5 140)"/>
<polygon points="78.3,157.9 88.3,157.9 85.7,161.7 75.7,161.7" fill="#f4f57c" stroke="#e6ee7a" stroke-width="0.6" transform="rotate(0 82 159.8)"/>
<polygon points="110.2,158.2 122.2,158.2 119.0,162.8 107.0,162.8" fill="#f4f57c" stroke="#e6ee7a" stroke-width="0.6" transform="rotate(-8 114.6 160.5)"/>
<polygon points="42.9,161.2 51.9,161.2 48.1,166.8 39.1,166.8" fill="#f4f57c" stroke="#e6ee7a" stroke-width="0.6" transform="rotate(18 45.5 164)"/>
<polygon points="6.3,195.8 16.3,195.8 11.7,202.2 1.7,202.2" fill="#f4f57c" stroke="#e6ee7a" stroke-width="0.6" transform="rotate(25 9 199)"/>
<polygon points="68.8,246.5 80.8,246.5 77.2,251.5 65.2,251.5" fill="#f4f57c" stroke="#e6ee7a" stroke-width="0.6" transform="rotate(-28 73 249)"/>
<path d="M27.0 47.5 C24.2 52.1 23.3 53.1 17.7 62.7 C12.1 72.3 13.3 69.7 8.3 79.4 C3.3 89.1 3.2 90.3 1.0 95.0" stroke="#b22c48" stroke-width="1.4" fill="none" stroke-linecap="round"/>
<path d="M60.4 47.5 C57.0 52.7 54.6 54.6 49.0 64.8 C43.4 75.0 45.5 70.9 41.7 81.5 C38.0 92.1 39.7 91.2 36.5 100.0 C33.3 108.8 36.3 102.6 31.0 110.7 C25.7 118.8 24.9 118.3 18.8 127.0 C12.6 135.7 14.8 129.9 10.4 139.8 C6.0 149.7 7.1 150.3 4.0 160.0 C0.9 169.7 1.2 168.4 0.0 172.0" stroke="#b22c48" stroke-width="1.4" fill="none" stroke-linecap="round"/>
<path d="M102.0 47.5 C96.3 52.7 94.8 54.6 83.0 64.8 C71.2 75.0 73.0 72.7 62.5 81.5 C52.0 90.3 55.8 88.5 48.0 94.0 C40.2 99.5 40.0 98.2 36.5 100.0" stroke="#b22c48" stroke-width="1.4" fill="none" stroke-linecap="round"/>
<path d="M125.0 47.5 C119.9 52.7 118.0 55.2 108.0 64.8 C98.0 74.4 97.9 71.2 91.7 79.4 C85.5 87.6 90.7 84.5 87.5 92.0 C84.3 99.5 88.5 96.9 81.0 104.4 C73.5 111.9 74.3 110.2 62.5 117.0 C50.7 123.8 54.2 121.4 41.7 127.0 C29.2 132.6 30.8 132.5 20.8 135.7 C10.8 138.9 12.1 137.2 8.3 137.8" stroke="#b22c48" stroke-width="1.4" fill="none" stroke-linecap="round"/>
<path d="M130.0 70.0 C126.0 74.7 125.1 75.4 116.7 85.7 C108.3 96.0 108.3 95.0 102.0 104.4 C95.7 113.8 101.4 110.8 95.8 117.0 C90.2 123.2 96.4 120.7 83.3 125.0 C70.2 129.3 70.8 128.3 52.0 131.5 C33.2 134.7 30.2 134.4 20.8 135.7" stroke="#b22c48" stroke-width="1.4" fill="none" stroke-linecap="round"/>
<path d="M83.3 125.0 C77.1 128.8 75.0 130.3 62.5 137.8 C50.0 145.3 53.0 142.0 41.7 150.0 C30.5 158.0 35.0 157.7 25.0 164.6 C15.0 171.5 15.8 168.7 8.3 173.0 C0.8 177.3 2.5 177.2 0.0 179.0" stroke="#b22c48" stroke-width="1.4" fill="none" stroke-linecap="round"/>
<path d="M139.0 126.0 C132.3 132.6 129.0 135.8 116.7 148.0 C104.4 160.2 109.3 154.2 98.0 166.7 C86.7 179.2 90.3 177.1 79.0 189.6 C67.7 202.1 69.7 197.1 60.4 208.3 C51.1 219.5 53.3 217.0 48.0 227.0 C42.7 237.0 44.6 234.2 42.7 241.7 C40.8 249.2 42.0 248.9 41.7 252.0" stroke="#b22c48" stroke-width="1.4" fill="none" stroke-linecap="round"/>
<path d="M140.0 156.0 C135.5 161.1 134.6 162.9 125.0 173.0 C115.4 183.1 115.8 180.9 108.0 189.6 C100.2 198.3 102.3 193.6 99.0 202.0 C95.7 210.4 97.6 213.0 97.0 217.7" stroke="#b22c48" stroke-width="1.4" fill="none" stroke-linecap="round"/>
<path d="M38.5 47.5 L49.0 64.8" stroke="#7a3060" stroke-width="0.8" fill="none"/>
<path d="M49.0 64.8 L75.0 51.0" stroke="#7a3060" stroke-width="0.8" fill="none"/>
<path d="M87.5 60.7 L95.8 71.0" stroke="#7a3060" stroke-width="0.8" fill="none"/>
<path d="M61.5 173.0 L91.7 172.5" stroke="#7a3060" stroke-width="0.8" fill="none"/>
<path d="M100.0 174.0 L116.7 168.8 L133.0 160.4" stroke="#7a3060" stroke-width="0.8" fill="none"/>
<path d="M41.7 165.6 L27.0 202.0 L14.6 231.0" stroke="#7a3060" stroke-width="0.8" fill="none"/>
<path d="M140.0 208.0 L125.0 218.8 L106.0 229.0" stroke="#7a3060" stroke-width="0.8" fill="none"/>
<path d="M48.0 94.0 L70.0 88.0 L91.0 82.0" stroke="#7a3060" stroke-width="0.8" fill="none"/>
<path d="M91.7 143 L10.4 154.4" stroke="#b22c48" stroke-width="0.8" stroke-dasharray="3 1.5" fill="none"/>
<g clip-path="url(#cpBlue)">
<path d="M97.0 217.7 L75.0 236.5 L60.4 238.5 L48.3 240.0" stroke="#a82c46" stroke-width="1.5" fill="none" stroke-linejoin="round"/>
<path d="M97.0 217.7 L108.0 237.5 L125.0 256.0 L129.7 265.0 L128.4 305.4 L131.0 348.0" stroke="#a82c46" stroke-width="1.5" fill="none" stroke-linejoin="round"/>
<path d="M0.0 224.0 L18.8 237.5 L37.5 250.0 L52.0 262.5 L80.6 287.7 L108.3 328.0 L125.9 360.7 L138.8 386.0" stroke="#a82c46" stroke-width="1.5" fill="none" stroke-linejoin="round"/>
<path d="M37.8 250.0 L38.3 305.4 L40.3 353.2 L42.8 363.3 L35.2 383.4 L31.5 402.6 L30.7 432.3" stroke="#a82c46" stroke-width="1.5" fill="none" stroke-linejoin="round"/>
<path d="M42.8 363.3 L60.4 380.9 L66.0 427.8 L69.7 463.0 L69.7 520.4" stroke="#a82c46" stroke-width="1.5" fill="none" stroke-linejoin="round"/>
</g>
<g clip-path="url(#cpGray)">
<path d="M97.0 217.7 L75.0 236.5 L60.4 238.5 L48.3 240.0" stroke="#d2303c" stroke-width="1.3" fill="none" stroke-linejoin="round"/>
<path d="M97.0 217.7 L108.0 237.5 L125.0 256.0 L129.7 265.0 L128.4 305.4 L131.0 348.0" stroke="#d2303c" stroke-width="1.3" fill="none" stroke-linejoin="round"/>
<path d="M0.0 224.0 L18.8 237.5 L37.5 250.0 L52.0 262.5 L80.6 287.7 L108.3 328.0 L125.9 360.7 L138.8 386.0" stroke="#d2303c" stroke-width="1.3" fill="none" stroke-linejoin="round"/>
<path d="M37.8 250.0 L38.3 305.4 L40.3 353.2 L42.8 363.3 L35.2 383.4 L31.5 402.6 L30.7 432.3" stroke="#d2303c" stroke-width="1.3" fill="none" stroke-linejoin="round"/>
<path d="M42.8 363.3 L60.4 380.9 L66.0 427.8 L69.7 463.0 L69.7 520.4" stroke="#d2303c" stroke-width="1.3" fill="none" stroke-linejoin="round"/>
</g>
</g>
<g id="curves" fill="none" stroke-width="1.1" stroke-linejoin="round" stroke-linecap="round">
<path d="M351.5 51.0 L317.5 62.0 L346.7 71.0 L341.0 71.8 C340.5 74.3 337.3 90.5 336.0 96.8 C334.7 103.0 328.7 128.1 327.8 134.3 C326.9 140.6 326.6 153.1 326.7 159.3 C326.8 165.5 328.4 186.9 328.8 196.0 C329.2 205.1 330.6 239.6 331.0 250.0 C331.4 260.4 332.5 290.3 333.0 300.0 C333.5 309.7 334.8 337.0 335.6 347.0 C336.4 357.0 339.9 392.4 340.7 400.0 C341.5 407.6 342.8 410.9 344.0 422.6 C345.2 434.3 351.7 507.8 352.6 517.3" stroke="#6f88c9" stroke-width="1.15"/>
<path d="M338.3 52.3 L302.2 61.4 L305.7 66.2 L300.8 70.4 L321.7 71.8 C322.5 72.4 329.0 76.4 330.0 78.0 C331.0 79.6 332.4 85.2 332.0 87.5 C331.6 89.8 327.4 98.7 325.7 101.0 C324.0 103.3 316.9 108.5 315.3 110.4 C313.7 112.3 310.6 117.0 310.0 119.8 C309.4 122.6 309.0 134.6 309.5 138.5 C310.0 142.4 313.9 154.7 315.3 159.3 C316.7 163.9 322.6 179.8 323.6 184.3 C324.7 188.8 325.6 197.9 325.8 204.4 C326.0 210.9 325.1 242.8 326.0 249.0 C326.9 255.2 333.7 261.6 334.6 266.7 C335.6 271.8 335.5 286.7 335.5 300.0 C335.5 313.3 334.4 387.7 334.2 400.0 C334.0 412.3 332.1 410.9 333.9 422.6 C335.7 434.3 350.7 507.8 352.6 517.3" stroke="#f0a23a" stroke-width="1.15"/>
<path d="M341.0 53.0 L307.8 62.0 L323.0 67.6 C321.2 68.8 307.4 78.2 305.0 80.0 C302.6 81.8 298.4 83.9 298.6 86.0 C298.8 88.1 305.2 98.6 307.0 101.0 C308.8 103.4 314.9 108.7 316.3 110.4 C317.8 112.1 320.9 114.9 321.5 117.7 C322.1 120.5 322.4 134.3 322.5 138.5 C322.6 142.7 322.2 155.2 322.5 159.3 C322.8 163.5 324.9 173.8 325.7 180.0 C326.4 186.2 329.4 213.3 330.0 221.0 C330.6 228.7 329.9 252.1 331.4 257.0 C332.9 261.9 343.4 263.7 345.0 270.0 C346.6 276.3 347.6 309.5 347.5 320.0 C347.4 330.5 344.6 367.0 344.5 375.0 C344.4 383.0 345.9 394.1 346.3 400.0 C346.7 405.9 348.0 422.2 348.6 433.9 C349.2 445.6 352.2 509.0 352.6 517.3" stroke="#9b6bb3" stroke-width="1.15"/>
<path d="M339.7 52.6 L303.0 62.8 L293.2 65.0 L318.9 68.3 L304.3 70.4 C304.8 72.4 307.9 86.0 309.0 90.0 C310.1 94.0 315.2 106.0 315.3 110.4 C315.4 114.8 310.4 130.9 310.0 134.3 C309.6 137.7 310.3 140.6 311.0 144.8 C311.7 149.0 316.2 170.9 317.3 176.0 C318.4 181.1 321.6 191.5 322.5 196.0 C323.4 200.5 325.2 214.6 325.8 221.0 C326.4 227.4 327.6 253.6 328.6 260.0 C329.6 266.4 334.9 276.5 336.0 285.0 C337.1 293.5 339.4 332.1 340.0 345.0 C340.6 357.9 341.3 403.6 341.8 413.6 C342.3 423.6 344.1 434.8 345.2 445.2 C346.3 455.6 351.9 510.1 352.6 517.3" stroke="#a9c93e" stroke-width="1.15"/>
<path d="M303 62.8 L306 66.4 L301.5 70.2 L318 71.2" stroke="#e8cf2e" stroke-width="1"/>
<path d="M357.0 51.0 L412.6 63.2 L380.0 66.2 L398.0 68.7 L380.0 72.5 C379.9 75.2 379.6 96.1 379.5 100.0 C379.4 103.9 380.2 107.4 379.5 111.8 C378.8 116.2 372.2 137.2 372.2 144.3 C372.2 151.4 378.9 175.3 379.5 182.7 C380.1 190.1 378.7 210.9 378.0 218.0 C377.3 225.1 373.8 248.8 372.2 253.6 C370.6 258.4 363.7 264.1 362.0 266.5 C360.3 268.9 356.0 270.6 355.4 278.0 C354.8 285.4 355.8 327.8 355.8 340.0 C355.8 352.2 355.4 387.2 355.3 400.0 C355.2 412.8 355.2 456.1 354.9 467.8 C354.6 479.5 352.8 512.3 352.6 517.3" stroke="#b24c96" stroke-width="1.15"/>
<path d="M357.0 51.0 L367.5 63.4 L351.5 66.2 L375.8 69.0 L355.0 91.2 L372.2 114.8 C372.0 116.1 370.3 125.3 370.0 128.0 C369.7 130.7 369.1 135.2 369.2 141.3 C369.3 147.4 371.1 178.0 370.7 188.6 C370.3 199.2 365.6 240.7 364.8 247.7 C364.0 254.7 362.0 256.8 362.5 258.5 C363.0 260.2 368.8 257.6 369.5 265.0 C370.2 272.4 369.7 319.5 369.6 333.0 C369.5 346.5 369.0 391.0 368.9 400.0 C368.8 409.0 369.2 418.5 368.9 422.6 C368.6 426.7 367.1 431.2 365.5 440.7 C363.9 450.2 353.9 509.6 352.6 517.3" stroke="#c22a42" stroke-width="1.15"/>
<path d="M359.0 52.0 L378.0 63.2 L360.5 65.8 L375.5 69.2 L362.0 73.4 L357.4 91.2 L381.0 116.0 C380.9 116.8 380.9 121.5 380.0 124.0 C379.1 126.5 373.2 139.6 372.4 141.3" stroke="#2b86c8" stroke-width="0.9"/>
<path d="M359.9 52.3 L380.0 62.8 L362.0 65.5 L377.2 69.0 L363.3 73.2 L358.5 91.2 L382.6 113.5 C382.4 114.5 381.4 121.2 380.5 124.0 C379.6 126.8 373.1 134.6 373.6 141.3 C374.1 148.1 385.4 182.9 385.4 191.5 C385.4 200.1 375.8 220.8 373.6 227.0 C371.4 233.2 363.8 249.6 363.3 253.6 C362.8 257.6 367.7 256.0 368.2 266.7 C368.7 277.4 368.4 347.7 368.0 361.0 C367.6 374.3 364.9 393.8 364.4 400.0 C363.9 406.2 364.0 415.8 363.2 422.6 C362.4 429.4 357.6 458.3 356.5 467.8 C355.4 477.3 353.0 512.3 352.6 517.3" stroke="#2eb1e1" stroke-width="1.15"/>
<path d="M487.2 46.8 C485.4 54.5 478.6 70.2 478.2 85.1 C477.8 100.0 484.5 105.9 485.0 121.3 C485.5 136.7 480.8 148.4 480.5 161.9 C480.2 175.4 484.1 179.1 483.6 189.0 C483.1 198.9 478.4 202.6 478.2 211.6 C478.0 220.6 483.1 221.4 482.7 234.0 C482.3 246.6 479.1 264.4 476.0 274.8 C472.9 285.2 469.1 280.4 467.0 286.0 C464.9 291.6 467.2 287.5 465.6 302.6 C464.0 317.7 461.4 336.0 459.2 361.3 C457.0 386.6 456.8 404.7 454.7 429.0 C452.6 453.3 451.4 463.3 448.9 483.0 C446.4 502.7 443.4 518.5 442.0 527.4" stroke="#2a2a2a" stroke-width="1.1"/>
</g>
<g transform="translate(296 97) rotate(63)"><text x="0" y="5.1" text-anchor="middle" font-size="15.6" fill="#2e2e2e">K<tspan font-size="8.6" dy="2.4">2</tspan><tspan dy="-2.4">O</tspan></text></g>
<g transform="translate(337.5 143.2) rotate(-90)"><text x="0" y="5.1" text-anchor="middle" font-size="15.6" fill="#2e2e2e">MgO</text></g>
<g transform="translate(308 174.4) rotate(74)"><text x="0" y="5.1" text-anchor="middle" font-size="15.6" fill="#2e2e2e">Na<tspan font-size="8.6" dy="2.4">2</tspan><tspan dy="-2.4">O</tspan></text></g>
<g transform="translate(390 133) rotate(-62)"><text x="0" y="5.1" text-anchor="middle" font-size="15.6" fill="#2e2e2e">TiO<tspan font-size="8.6" dy="2.4">2</tspan></text></g>
<g transform="translate(389 240.3) rotate(-71)"><text x="0" y="5.1" text-anchor="middle" font-size="15.6" fill="#2e2e2e">Fe<tspan font-size="8.6" dy="2.4">2</tspan><tspan dy="-2.4">O</tspan><tspan font-size="8.6" dy="2.4">3</tspan></text></g>
<g transform="translate(330.3 448) rotate(86)"><text x="0" y="5.1" text-anchor="middle" font-size="15.6" fill="#2e2e2e">CaO</text></g>
<g transform="translate(378.7 444.4) rotate(-74)"><text x="0" y="5.1" text-anchor="middle" font-size="15.6" fill="#2e2e2e">Al<tspan font-size="8.6" dy="2.4">2</tspan><tspan dy="-2.4">O</tspan><tspan font-size="8.6" dy="2.4">3</tspan></text></g>
<g id="tableA">
<rect x="0" y="2" width="1.6" height="518.6" fill="#1f2428"/>
<rect x="137.7" y="2" width="1.7" height="518.7" fill="#2a2a2a"/>
<rect x="283.0" y="2" width="1.6" height="518.7" fill="#2a2a2a"/>
<rect x="416.8" y="2" width="1.6" height="518.7" fill="#2a2a2a"/>
<rect x="497.0" y="2" width="1.3" height="518.7" fill="#3a3a3a"/>
<rect x="0" y="46.5" width="498.8" height="1.6" fill="#2a2a2a"/>
<rect x="352.2" y="37.5" width="1.3" height="9" fill="#2a2a2a"/>
<text x="10.2" y="20.0" font-size="15" fill="#2e2e2e" textLength="120.8" lengthAdjust="spacing">Schematic diagram</text>
<text x="10.2" y="36.9" font-size="15" fill="#2e2e2e" textLength="113.2" lengthAdjust="spacing">of reservoir space</text>
<text x="173" y="18.9" font-size="15" fill="#2e2e2e" textLength="95" lengthAdjust="spacing">Zone and main</text>
<text x="173" y="35.9" font-size="15" fill="#2e2e2e" textLength="96" lengthAdjust="spacing">reservoir space</text>
<text x="288.9" y="20.5" font-size="15" fill="#2e2e2e" textLength="56.9" lengthAdjust="spacing">Decrease</text>
<text x="361.6" y="20.5" font-size="15" fill="#2e2e2e" textLength="53.2" lengthAdjust="spacing">Increase</text>
<text x="285.8" y="39.8" font-size="14" fill="#2e2e2e" textLength="39.9" lengthAdjust="spacing">−100%</text>
<text x="350.8" y="39.8" font-size="14" fill="#2e2e2e" textLength="6.6" lengthAdjust="spacing">0</text>
<text x="377" y="39.8" font-size="14" fill="#2e2e2e" textLength="38.4" lengthAdjust="spacing">+100%</text>
<text x="426.5" y="22.6" font-size="15" fill="#2e2e2e" textLength="63" lengthAdjust="spacing">CIA index</text>
<text x="420.8" y="39.8" font-size="14" fill="#2e2e2e" textLength="6.6" lengthAdjust="spacing">0</text>
<text x="464.5" y="39.8" font-size="14" fill="#2e2e2e" textLength="30.1" lengthAdjust="spacing">100%</text>
<text x="199.8" y="62" font-size="16.9" fill="#2e2e2e" textLength="25.5" lengthAdjust="spacing">Soil</text>
<text x="142.9" y="79.7" font-size="14.4" fill="#2e2e2e" textLength="138.8" lengthAdjust="spacing">(Secondary micropores)</text>
<text x="157.6" y="116.7" font-size="16.9" fill="#2e2e2e" textLength="110.1" lengthAdjust="spacing">Hydrolysis zone</text>
<text x="166.6" y="133.1" font-size="14.4" fill="#2e2e2e" textLength="92.5" lengthAdjust="spacing">(primary pore +</text>
<text x="168.9" y="149.6" font-size="14.4" fill="#2e2e2e" textLength="88" lengthAdjust="spacing">secondary pore</text>
<text x="181.3" y="165.4" font-size="14.4" fill="#2e2e2e" textLength="65.9" lengthAdjust="spacing">+ fractures)</text>
<text x="151.5" y="217" font-size="16.9" fill="#2e2e2e" textLength="112.9" lengthAdjust="spacing">Dissolution zone</text>
<text x="163" y="233.6" font-size="14.4" fill="#2e2e2e" textLength="89.8" lengthAdjust="spacing">(primary pore +</text>
<text x="147.5" y="249.4" font-size="14.4" fill="#2e2e2e" textLength="123.8" lengthAdjust="spacing">a few secondary pore</text>
<text x="175.3" y="265" font-size="14.4" fill="#2e2e2e" textLength="68" lengthAdjust="spacing">+ fractures)</text>
<text x="147.5" y="328.6" font-size="16.9" fill="#2e2e2e" textLength="132.7" lengthAdjust="spacing">Disintegration zone</text>
<text x="179.6" y="345.1" font-size="14.4" fill="#2e2e2e" textLength="63.7" lengthAdjust="spacing">(fractures +</text>
<text x="150.5" y="361.6" font-size="14.4" fill="#2e2e2e" textLength="129.7" lengthAdjust="spacing">a few secondary pore)</text>
<text x="180.8" y="474.1" font-size="16.9" fill="#2e2e2e" textLength="64.7" lengthAdjust="spacing">Host rock</text>
<text x="183.4" y="490.6" font-size="14.4" fill="#2e2e2e" textLength="59.6" lengthAdjust="spacing">(fractures)</text>
<text x="76.5" y="572.9" font-size="15" fill="#2e2e2e" textLength="377" lengthAdjust="spacing">(a) The characteristics of reservoirs under the EIUB &amp; TUB</text>
<text x="629.5" y="572.6" font-size="15" fill="#2e2e2e" textLength="578.5" lengthAdjust="spacing">(b) Characteristics of favorable reservoir thickness under EIUB &amp; TUB from typical basins</text>
</g>
<g id="chartB">
<rect x="540" y="535" width="716" height="17" fill="#3e3a3b"/>
<rect x="543.5" y="74.3" width="20.4" height="38.0" fill="#e7212a"/>
<rect x="565.2" y="48.0" width="20.4" height="504.0" fill="#e7212a"/>
<rect x="587.3" y="48.0" width="19.7" height="467.7" fill="#e7212a"/>
<rect x="609.0" y="48.0" width="19.8" height="148.5" fill="#e7212a"/>
<rect x="630.2" y="48.0" width="20.4" height="143.5" fill="#e7212a"/>
<rect x="652.1" y="48.0" width="20.1" height="143.0" fill="#e7212a"/>
<rect x="672.4" y="48.0" width="20.2" height="247.2" fill="#e7212a"/>
<rect x="693.7" y="48.0" width="20.7" height="144.4" fill="#e7212a"/>
<rect x="716.1" y="48.0" width="19.7" height="179.8" fill="#e7212a"/>
<rect x="737.5" y="65.2" width="20.4" height="274.8" fill="#e7212a"/>
<rect x="759.6" y="48.0" width="19.8" height="195.4" fill="#e7212a"/>
<rect x="781.3" y="48.0" width="19.5" height="247.2" fill="#e7212a"/>
<rect x="803.1" y="65.2" width="20.8" height="121.8" fill="#e7212a"/>
<rect x="826.3" y="48.0" width="19.7" height="393.4" fill="#e7212a"/>
<rect x="848.3" y="48.0" width="20.3" height="247.2" fill="#e7212a"/>
<rect x="873.2" y="48.0" width="19.7" height="216.3" fill="#a9478f"/>
<rect x="897.5" y="48.0" width="20.3" height="374.3" fill="#ee8a1e"/>
<rect x="921.9" y="64.3" width="20.3" height="45.0" fill="#ee8a1e"/>
<rect x="948.3" y="48.0" width="20.2" height="195.2" fill="#fff100"/>
<rect x="976.4" y="48.0" width="20.0" height="374.3" fill="#f4b5b5"/>
<rect x="998.7" y="48.0" width="20.1" height="108.7" fill="#f4b5b5"/>
<rect x="1021.0" y="48.0" width="20.5" height="216.0" fill="#f4b5b5"/>
<rect x="1043.5" y="48.0" width="20.1" height="150.3" fill="#f4b5b5"/>
<rect x="1065.6" y="48.0" width="20.5" height="125.9" fill="#f4b5b5"/>
<rect x="1088.4" y="48.0" width="20.1" height="413.8" fill="#f4b5b5"/>
<rect x="1111.0" y="48.0" width="20.3" height="150.3" fill="#f4b5b5"/>
<rect x="1133.1" y="60.3" width="20.0" height="69.0" fill="#f4b5b5"/>
<rect x="1156.3" y="48.0" width="20.1" height="219.6" fill="#f4b5b5"/>
<rect x="1184.3" y="48.0" width="20.2" height="195.2" fill="#e4007f"/>
<rect x="1209.0" y="48.0" width="20.0" height="146.7" fill="#e4007f"/>
<rect x="1233.7" y="48.0" width="19.8" height="245.5" fill="#e4007f"/>
<rect x="966.4" y="535" width="1.5" height="17" fill="#f4f4f4"/>
<rect x="1180.4" y="535" width="1.5" height="17" fill="#f4f4f4"/>
<rect x="1206.8" y="535" width="1.5" height="17" fill="#f4f4f4"/>
<rect x="1206.9" y="519.5" width="1.2" height="15.5" fill="#444"/>
<path d="M1147 526.3 L1180.6 534.8" stroke="#333" stroke-width="1" fill="none"/>
<text x="732.1" y="548.8" font-size="16" fill="#ece8e4" textLength="54.2" lengthAdjust="spacing">Palezoic</text>
<text x="1046.4" y="550" font-size="16" fill="#ece8e4" textLength="61.6" lengthAdjust="spacing">Mesozoic</text>
<text x="1146.9" y="526.1" font-size="15.6" fill="#2e2e2e" textLength="58.9" lengthAdjust="spacing">Cenozoic</text>
<text x="1209.1" y="531.9" font-size="15.6" fill="#2e2e2e" textLength="60.5" lengthAdjust="spacing">Mesozoic</text>
<rect x="539.4" y="32.3" width="1.8" height="520.5" fill="#2a2a2a"/>
<rect x="534" y="46.7" width="722.8" height="1.9" fill="#2a2a2a"/>
<rect x="532.4" y="146.0" width="7.6" height="1.4" fill="#2a2a2a"/>
<rect x="533" y="243.5" width="7.0" height="1.4" fill="#2a2a2a"/>
<rect x="533" y="341.7" width="7.0" height="1.4" fill="#2a2a2a"/>
<rect x="533.8" y="441.3" width="6.2" height="1.4" fill="#2a2a2a"/>
<rect x="534.6" y="539.6" width="5.4" height="1.4" fill="#2a2a2a"/>
<path d="M859.4 27 V43.2 L868 47.2 M895.1 27 V47 M1180 26.7 V47 M1256 26.7 V47 M977.9 27 V43.4 L974 47.2" stroke="#2a2a2a" stroke-width="1.5" fill="none"/>
<path d="M944.2 27 V47" stroke="#666" stroke-width="1.2" fill="none"/>
<g transform="translate(556.7 97.0) rotate(-90)"><text x="0" y="0" font-size="14.1" fill="url(#g0)" textLength="43.3" lengthAdjust="spacing">Ma  19</text></g>
<g transform="translate(578.5 217.4) rotate(-90)"><text x="0" y="0" font-size="14.1" fill="url(#g1)" textLength="163.7" lengthAdjust="spacing">Junggar &amp; Santanghu Basin</text></g>
<g transform="translate(600.8 265.7) rotate(-90)"><text x="0" y="0" font-size="14.1" fill="url(#g2)" textLength="212.0" lengthAdjust="spacing">Zhongguai  uplift  Carboniferous</text></g>
<g transform="translate(622.3 236.5) rotate(-90)"><text x="0" y="0" font-size="14.1" fill="url(#g3)" textLength="182.8" lengthAdjust="spacing">Jiuquan Area−Carboniferous</text></g>
<g transform="translate(646.9 240.6) rotate(-90)"><text x="0" y="0" font-size="14.1" fill="url(#g4)" textLength="186.9" lengthAdjust="spacing">Zhonggguai  uplift−5&amp;8 block</text></g>
<g transform="translate(667.0 168.6) rotate(-90)"><text x="0" y="0" font-size="14.1" fill="url(#g5)" textLength="114.9" lengthAdjust="spacing">Chunfeng oilfiled</text></g>
<g transform="translate(689.0 284.4) rotate(-90)"><text x="0" y="0" font-size="14.1" fill="url(#g6)" textLength="230.7" lengthAdjust="spacing">Hongche Fault Zone−Carboniferous</text></g>
<g transform="translate(709.2 188.7) rotate(-90)"><text x="0" y="0" font-size="14.1" fill="url(#g7)" textLength="135.0" lengthAdjust="spacing">Hongshanzui oilfiled</text></g>
<g transform="translate(729.6 133.5) rotate(-90)"><text x="0" y="0" font-size="14.1" fill="url(#g8)" textLength="79.8" lengthAdjust="spacing">Hashan Area</text></g>
<g transform="translate(752.1 135.2) rotate(-90)"><text x="0" y="0" font-size="14.1" fill="url(#g9)" textLength="81.5" lengthAdjust="spacing">Ludong Area</text></g>
<g transform="translate(773.3 135.2) rotate(-90)"><text x="0" y="0" font-size="14.1" fill="url(#g10)" textLength="81.5" lengthAdjust="spacing">Ludong Area</text></g>
<g transform="translate(793.5 135.6) rotate(-90)"><text x="0" y="0" font-size="14.1" fill="url(#g11)" textLength="81.9" lengthAdjust="spacing">Junggar Basin</text></g>
<g transform="translate(817.5 136.6) rotate(-90)"><text x="0" y="0" font-size="14.1" fill="url(#g12)" textLength="82.9" lengthAdjust="spacing">Shixi oilfiled</text></g>
<g transform="translate(840.4 224.0) rotate(-90)"><text x="0" y="0" font-size="14.1" fill="url(#g13)" textLength="170.3" lengthAdjust="spacing">Dixi Area-expolsive facies</text></g>
<g transform="translate(866.0 211.4) rotate(-90)"><text x="0" y="0" font-size="14.1" fill="url(#g14)" textLength="157.7" lengthAdjust="spacing">Dixi Area-effusive facies</text></g>
<g transform="translate(889.0 149.1) rotate(-90)"><text x="0" y="0" font-size="14.1" fill="url(#g15)" textLength="95.4" lengthAdjust="spacing">Well Yuenan−1</text></g>
<g transform="translate(932.1 125.6) rotate(-90)"><text x="0" y="0" font-size="14.1" fill="url(#g17)" textLength="71.9" lengthAdjust="spacing">Malang sag</text></g>
<g transform="translate(962.9 115.2) rotate(-90)"><text x="0" y="0" font-size="14.1" fill="url(#g18)" textLength="61.5" lengthAdjust="spacing">Basement</text></g>
<g transform="translate(990.4 153.9) rotate(-90)"><text x="0" y="0" font-size="14.1" fill="url(#g19)" textLength="100.2" lengthAdjust="spacing">Shengping Area</text></g>
<g transform="translate(1012.1 146.3) rotate(-90)"><text x="0" y="0" font-size="14.1" fill="url(#g20)" textLength="92.6" lengthAdjust="spacing">Well Xushen-1</text></g>
<g transform="translate(1036.9 158.6) rotate(-90)"><text x="0" y="0" font-size="14.1" fill="url(#g21)" textLength="104.9" lengthAdjust="spacing">Xushen gas field</text></g>
<g transform="translate(1059.0 166.4) rotate(-90)"><text x="0" y="0" font-size="14.1" fill="url(#g22)" textLength="112.7" lengthAdjust="spacing">Songnan gas field</text></g>
<g transform="translate(1079.4 175.5) rotate(-90)"><text x="0" y="0" font-size="14.1" fill="url(#g23)" textLength="121.8" lengthAdjust="spacing">Changling gas field</text></g>
<g transform="translate(1101.5 175.5) rotate(-90)"><text x="0" y="0" font-size="14.1" fill="url(#g24)" textLength="121.8" lengthAdjust="spacing">Yingtai Depression</text></g>
<g transform="translate(1124.7 184.1) rotate(-90)"><text x="0" y="0" font-size="14.1" fill="url(#g25)" textLength="130.4" lengthAdjust="spacing">Wanggfu Depression</text></g>
<g transform="translate(1146.2 185.6) rotate(-90)"><text x="0" y="0" font-size="14.1" fill="url(#g26)" textLength="131.9" lengthAdjust="spacing">Wanggfu Depression</text></g>
<g transform="translate(1169.5 164.5) rotate(-90)"><text x="0" y="0" font-size="14.1" fill="url(#g27)" textLength="110.8" lengthAdjust="spacing">Dehui Depression</text></g>
<g transform="translate(1198.1 183.5) rotate(-90)"><text x="0" y="0" font-size="14.1" fill="url(#g28)" textLength="129.8" lengthAdjust="spacing">Qikou sag-Cenozoic</text></g>
<g transform="translate(1224.2 115.8) rotate(-90)"><text x="0" y="0" font-size="14.1" fill="url(#g29)" textLength="62.1" lengthAdjust="spacing">Basement</text></g>
<g transform="translate(1248.9 184.0) rotate(-90)"><text x="0" y="0" font-size="14.1" fill="url(#g30)" textLength="130.3" lengthAdjust="spacing">Guxi Area-Basement</text></g>
<text x="664.1" y="35.7" font-size="14.6" fill="#2e2e2e" textLength="82.3" lengthAdjust="spacing">Junggar Basin</text>
<text x="890.2" y="9.2" font-size="14.6" fill="#2e2e2e" textLength="61.4" lengthAdjust="spacing">Santanghu</text>
<text x="904.6" y="25.7" font-size="14.6" fill="#2e2e2e" textLength="31.6" lengthAdjust="spacing">Basin</text>
<text x="1037.9" y="37.4" font-size="14.6" fill="#2e2e2e" textLength="87" lengthAdjust="spacing">Songliao Basin</text>
<text x="1190.8" y="28" font-size="14.6" fill="#2e2e2e" textLength="58.1" lengthAdjust="spacing">Bohai bay</text>
<text x="1203.7" y="44.5" font-size="14.6" fill="#2e2e2e" textLength="31.8" lengthAdjust="spacing">Basin</text>
<g transform="translate(875.6 44.1) rotate(-90)"><text x="0" y="0" font-size="14.4" fill="#2e2e2e" textLength="30.5" lengthAdjust="spacingAndGlyphs">Tarim</text></g>
<g transform="translate(891.8 45.6) rotate(-90)"><text x="0" y="0" font-size="14.4" fill="#2e2e2e" textLength="31.2" lengthAdjust="spacingAndGlyphs">Basin</text></g>
<g transform="translate(957.7 43.7) rotate(-90)"><text x="0" y="0" font-size="14.4" fill="#2e2e2e" textLength="33.3" lengthAdjust="spacingAndGlyphs">Hailar</text></g>
<g transform="translate(974.2 43.7) rotate(-90)"><text x="0" y="0" font-size="14.4" fill="#2e2e2e" textLength="31.3" lengthAdjust="spacingAndGlyphs">Basin</text></g>
<g transform="translate(532.9 158.8) rotate(-90)"><text x="0" y="0" font-size="17.2" fill="#262626" textLength="25.5" lengthAdjust="spacing">100</text></g>
<g transform="translate(532.9 256.1) rotate(-90)"><text x="0" y="0" font-size="17.2" fill="#262626" textLength="25.5" lengthAdjust="spacing">200</text></g>
<g transform="translate(532.9 354.6) rotate(-90)"><text x="0" y="0" font-size="17.2" fill="#262626" textLength="25.5" lengthAdjust="spacing">300</text></g>
<g transform="translate(532.9 454.6) rotate(-90)"><text x="0" y="0" font-size="17.2" fill="#262626" textLength="26.2" lengthAdjust="spacing">400</text></g>
<g transform="translate(532.9 553.2) rotate(-90)"><text x="0" y="0" font-size="17.2" fill="#262626" textLength="26.4" lengthAdjust="spacing">500</text></g>
<g transform="translate(518.0 392.0) rotate(-90)"><text x="0" y="0" font-size="17.2" fill="#262626" textLength="249.0" lengthAdjust="spacing">Distance from the EIUB/TUB (m)</text></g>
</g>
</svg>
</body></html>
